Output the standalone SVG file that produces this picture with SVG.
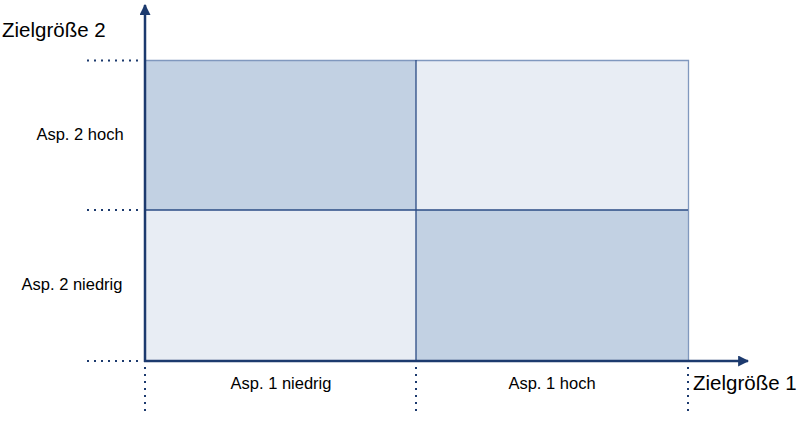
<svg xmlns="http://www.w3.org/2000/svg" width="800" height="421" viewBox="0 0 800 421">
<defs>
<style>
.dark{fill:#C2D1E3;stroke:none}
.light{fill:#E8EDF4;stroke:none}
.grid{stroke:#2B4C85;stroke-width:1.3;fill:none}
.border{stroke:#8098BE;stroke-width:1.3;fill:none}
.axis{stroke:#1C3A6E;stroke-width:2.5;fill:none}
.dot{stroke:#1C3A6E;stroke-width:2;stroke-dasharray:2 5;fill:none}
.lbl{font-family:"Liberation Sans",Arial,sans-serif;font-size:16.5px;fill:#000;text-anchor:middle}
.ttl{font-family:"Liberation Sans",Arial,sans-serif;font-size:20.5px;fill:#000}
</style>
<marker id="arr" viewBox="0 0 10 10" refX="9" refY="5" markerWidth="4.4" markerHeight="4.4" orient="auto" markerUnits="strokeWidth">
<path d="M0,0 L10,5 L0,10 z" fill="#1C3A6E"/>
</marker>
</defs>
<g id="cell-tl"><rect class="dark" x="145" y="60" width="271" height="150"/></g>
<g id="cell-tr"><rect class="light" x="416" y="60" width="272" height="150"/></g>
<g id="cell-bl"><rect class="light" x="145" y="210" width="271" height="151"/></g>
<g id="cell-br"><rect class="dark" x="416" y="210" width="272" height="151"/></g>
<g id="connectors">
<path class="border" d="M145,60.5 H688.5 V361"/>
<path class="grid" d="M145,210 H688 M416,60 V361"/>
<path class="dot" d="M87,60.5 H142 M87,210 H142 M87,361 H142"/>
<path class="dot" d="M145,367 V413 M416,367 V413 M688,367 V413"/>
<path class="axis" d="M145,362 V5" marker-end="url(#arr)"/>
<path class="axis" d="M144,361 H748" marker-end="url(#arr)"/>
</g>
<g id="labels">
<text class="ttl" x="2" y="37">Zielgröße 2</text>
<text class="ttl" x="693" y="390">Zielgröße 1</text>
<text class="lbl" x="80" y="140">Asp. 2 hoch</text>
<text class="lbl" x="72" y="290">Asp. 2 niedrig</text>
<text class="lbl" x="281" y="389">Asp. 1 niedrig</text>
<text class="lbl" x="552" y="389">Asp. 1 hoch</text>
</g>
</svg>
